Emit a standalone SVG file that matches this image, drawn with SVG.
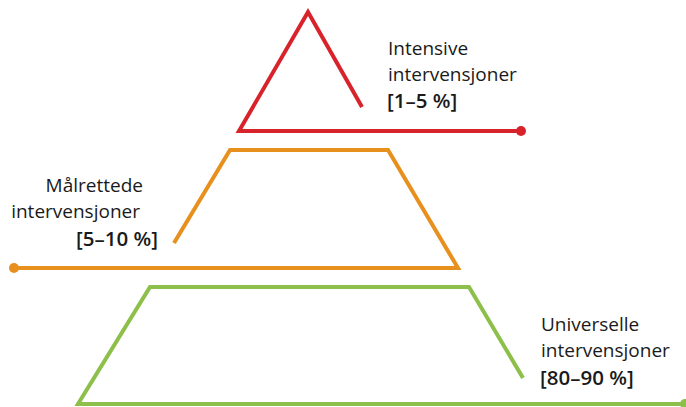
<svg xmlns="http://www.w3.org/2000/svg" width="686" height="407" viewBox="0 0 686 407">
<style>
.t{font-family:"Open Sans","Noto Sans",sans-serif;font-size:19px;fill:#1a1a1a}
.b{font-weight:600;font-size:20.5px}
.ln{fill:none;stroke-width:4;stroke-linejoin:miter;stroke-linecap:butt}
.r{stroke:#d9232a}.o{stroke:#e8901e}.g{stroke:#8dc04a}
</style>
<rect width="686" height="407" fill="#fff"/>
<g id="connectors">
<polyline class="ln r" points="362,107 308,12 239,131 521,131"/>
<circle cx="521" cy="131" r="5" fill="#d9232a"/>
<polyline class="ln o" points="174,243 230,150 388,150 458,268 14,268"/>
<circle cx="14" cy="268" r="5" fill="#e8901e"/>
<polyline class="ln g" points="523,378 469,287 150,287 78,404 686,404"/>
<circle cx="685" cy="404" r="5" fill="#8dc04a"/>
</g>
<g id="intensive">
<text class="t" x="388" y="55">Intensive</text>
<text class="t" x="388" y="81">intervensjoner</text>
<text class="t b" x="387" y="108">[1–5 %]</text>
</g>
<g id="malrettede">
<text class="t" x="143" y="192" text-anchor="end">Målrettede</text>
<text class="t" x="140" y="218" text-anchor="end">intervensjoner</text>
<text class="t b" x="158" y="246" text-anchor="end">[5–10 %]</text>
</g>
<g id="universelle">
<text class="t" x="541" y="331">Universelle</text>
<text class="t" x="541" y="357">intervensjoner</text>
<text class="t b" x="540" y="385">[80–90 %]</text>
</g>
</svg>
